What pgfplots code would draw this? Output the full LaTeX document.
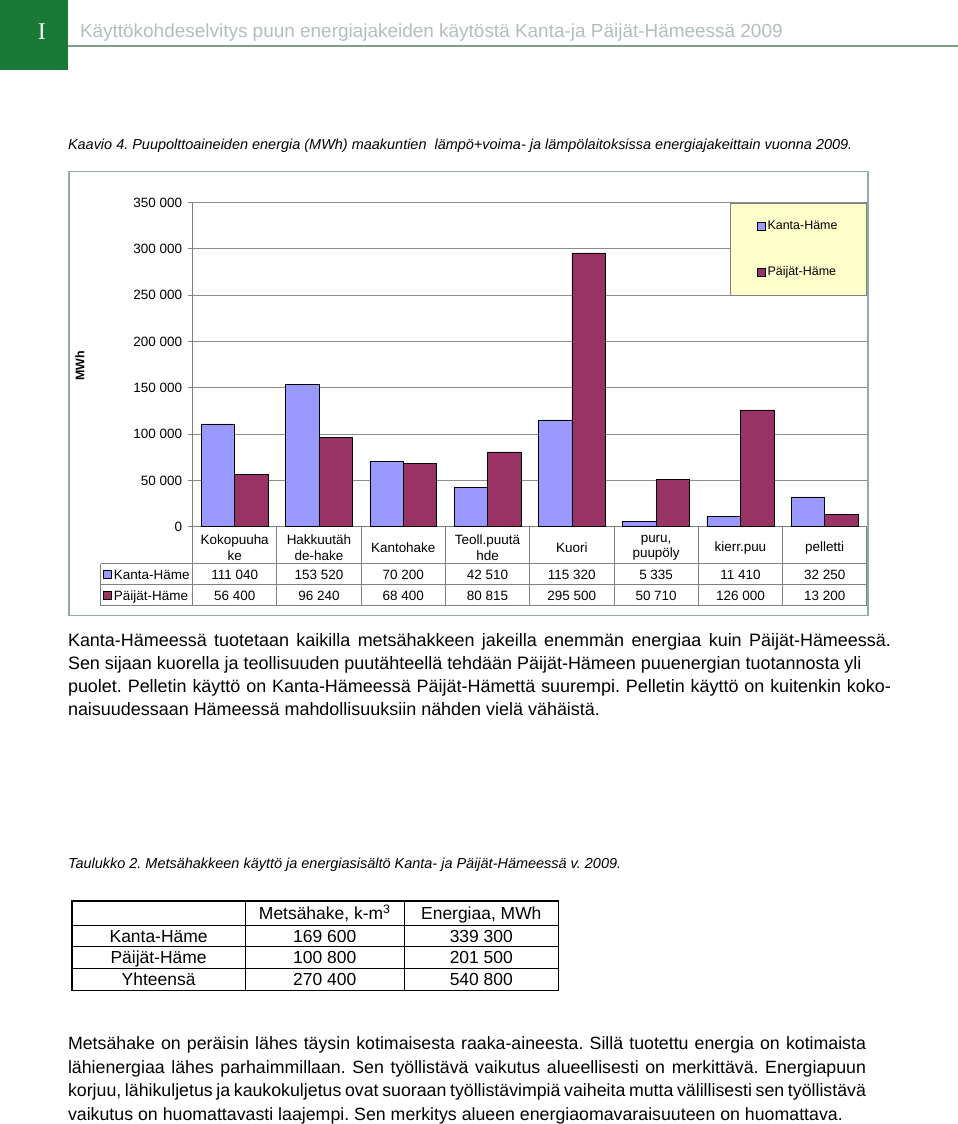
\documentclass[border=0pt]{standalone}
\usepackage{pgfplots}
\pgfplotsset{compat=1.18}
\usepackage{fontspec}
\setmainfont{Liberation Sans}
\newfontfamily\seriffont{Liberation Serif}
\definecolor{hdrgreen}{HTML}{197A38}
\definecolor{hdrtext}{HTML}{B4BEB8}
\definecolor{hdrline}{HTML}{7F9F8A}
\definecolor{frame}{HTML}{8FAF9C}
\definecolor{kanta}{HTML}{9999FF}
\definecolor{paijat}{HTML}{993366}
\definecolor{legfill}{HTML}{FFFFCC}
\newcommand{\fs}[1]{\fontsize{#1}{#1}\selectfont}
\newcommand{\jl}[2]{\makebox[#1][s]{#2}}
\frenchspacing
\begin{document}
\frenchspacing
\begin{tikzpicture}
\begin{scope}[x=1pt,y=-1pt]
\path[use as bounding box] (0,0) rectangle (960,1124);
% header
\fill[hdrgreen] (0,0) rectangle (68,70);
\node[white,font=\seriffont\fs{24}] at (42,32) {I};
\draw[hdrline,line width=1.5pt] (68,46) -- (960,46);
\node[anchor=base west,text=hdrtext,font=\fs{19},inner sep=0pt] at (80,38) {Käyttökohdeselvitys puun energiajakeiden käytöstä Kanta-ja Päijät-Hämeessä 2009};
% caption
\node[anchor=base west,font=\itshape\fs{14.5},inner sep=0pt] at (68,150) {Kaavio 4. Puupolttoaineiden energia (MWh) maakuntien\ \ lämpö+voima- ja lämpölaitoksissa energiajakeittain vuonna 2009.};
% chart frame
\draw[frame,line width=1.5pt] (69,172) rectangle (870,617);
\node[rotate=90,font=\bfseries\fs{12.5}] at (80,367) {MWh};
\end{scope}

\begin{axis}[
  at={(193pt,-528pt)}, anchor=south west,
  scale only axis, width=676pt, height=325pt,
  ymin=0, ymax=350000, xmin=-0.5, xmax=7.5,
  ybar=0pt, bar width=33.5pt,
  axis x line*=bottom, axis y line*=left,
  axis line style={-, draw=gray, line width=0.8pt},
  ytick={0,50000,...,350000},
  ymajorgrids, grid style={draw=gray!90, line width=0.7pt},
  tick align=outside, major tick length=5pt,
  ytick style={draw=gray, line width=0.8pt},
  xtick={0,...,7}, xtick style={draw=none},
  xticklabels={{Kokopuuha\\ke},{Hakkuutäh\\de-hake},{Kantohake},{Teoll.puutä\\hde},{Kuori},{puru,\\puupöly},{kierr.puu},{pelletti}},
  x tick label style={align=center, anchor=center, font=\fontsize{13.5}{15.5}\selectfont, yshift=-16pt},
  y tick label style={font=\fs{13.5}, xshift=-2pt},
  /pgf/number format/fixed,
  /pgf/number format/precision=0,
  /pgf/number format/assume math mode=true,
  /pgf/number format/1000 sep={\ },
  scaled y ticks=false,
  clip=false,
  legend cell align=left,
  legend style={at={(1,1)}, anchor=north east, xshift=0pt, fill=legfill, draw=gray, line width=0.8pt,
    font=\fs{12.5}, inner xsep=27pt, inner ysep=16pt, row sep=32pt},
]
\addplot[fill=kanta, draw=black, line width=0.6pt,
  legend image code/.code={\draw[fill=kanta,draw=black,line width=0.5pt] (0pt,-4pt) rectangle (8pt,4pt);}]
  coordinates {(0,111040) (1,153520) (2,70200) (3,42510) (4,115320) (5,5335) (6,11410) (7,32250)};
\addplot[fill=paijat, draw=black, line width=0.6pt,
  legend image code/.code={\draw[fill=paijat,draw=black,line width=0.5pt] (0pt,-4pt) rectangle (8pt,4pt);}]
  coordinates {(0,56400) (1,96240) (2,68400) (3,80815) (4,295500) (5,50710) (6,126000) (7,13200)};
\legend{Kanta-Häme,Päijät-Häme}
\end{axis}

\begin{scope}[x=1pt,y=-1pt]
% data table
\foreach \k in {0,...,8} {\draw[gray,line width=0.8pt] ({193+84.5*\k},528) -- ({193+84.5*\k},607);}
\foreach \yy in {565,586,607} {\draw[gray,line width=0.8pt] (101,\yy) -- (869,\yy);}
\draw[gray,line width=0.8pt] (101,565) -- (101,607);
\draw[fill=kanta,draw=black,line width=0.5pt] (104,571.5) rectangle (112,579.5);
\draw[fill=paijat,draw=black,line width=0.5pt] (104,592.5) rectangle (112,600.5);
\node[anchor=base west,font=\fs{13.5},inner sep=0pt] at (114,580.5) {Kanta-Häme};
\node[anchor=base west,font=\fs{13.5},inner sep=0pt] at (114,601.5) {Päijät-Häme};
\foreach \v [count=\i from 0] in {111 040,153 520,70 200,42 510,115 320,5 335,11 410,32 250}
  {\node[anchor=base,font=\fs{13.5},inner sep=0pt] at ({235.25+84.5*\i},580.5) {\v};}
\foreach \v [count=\i from 0] in {56 400,96 240,68 400,80 815,295 500,50 710,126 000,13 200}
  {\node[anchor=base,font=\fs{13.5},inner sep=0pt] at ({235.25+84.5*\i},601.5) {\v};}
% paragraph 1
\begin{scope}[every node/.style={anchor=base west,font=\fs{18},inner sep=0pt}]
\node at (68,648) {\jl{825pt}{Kanta-Hämeessä tuotetaan kaikilla metsähakkeen jakeilla enemmän energiaa kuin Päijät-Hämeessä.}};
\node at (68,671.2) {Sen sijaan kuorella ja teollisuuden puutähteellä tehdään Päijät-Hämeen puuenergian tuotannosta yli};
\node at (68,694.4) {\jl{825pt}{puolet. Pelletin käyttö on Kanta-Hämeessä Päijät-Hämettä suurempi. Pelletin käyttö on kuitenkin koko-}};
\node at (68,717.6) {naisuudessaan Hämeessä mahdollisuuksiin nähden vielä vähäistä.};
\end{scope}
% table caption
\node[anchor=base west,font=\itshape\fs{14.5},inner sep=0pt] at (68,871) {Taulukko 2. Metsähakkeen käyttö ja energiasisältö Kanta- ja Päijät-Hämeessä v. 2009.};
% table 2
\draw[line width=1.5pt] (72,903) rectangle (560,993);
\foreach \yy in {928,949,971} {\draw[line width=1pt] (72,\yy) -- (560,\yy);}
\foreach \xx in {246,405} {\draw[line width=1pt] (\xx,903) -- (\xx,993);}
\node[anchor=base,font=\fs{17.5},inner sep=0pt] at (325.5,922) {Metsähake, k-m\textsuperscript{3}};
\node[anchor=base,font=\fs{17.5},inner sep=0pt] at (482.5,922) {Energiaa, MWh};
\foreach \a/\b/\c [count=\i from 0] in {Kanta-Häme/169 600/339 300,Päijät-Häme/100 800/201 500,Yhteensä/270 400/540 800}{
  \node[anchor=base,font=\fs{17.5},inner sep=0pt] at (159,{944.5+21.7*\i}) {\a};
  \node[anchor=base,font=\fs{17.5},inner sep=0pt] at (325.5,{944.5+21.7*\i}) {\b};
  \node[anchor=base,font=\fs{17.5},inner sep=0pt] at (482.5,{944.5+21.7*\i}) {\c};
}
% paragraph 2
\begin{scope}[every node/.style={anchor=base west,font=\fs{17.8},inner sep=0pt}]
\node at (68,1052) {\jl{800pt}{Metsähake on peräisin lähes täysin kotimaisesta raaka-aineesta. Sillä tuotettu energia on kotimaista}};
\node at (68,1075.7) {\jl{800pt}{lähienergiaa lähes parhaimmillaan. Sen työllistävä vaikutus alueellisesti on merkittävä. Energiapuun}};
\node at (68,1099.4) {\jl{800pt}{korjuu, lähikuljetus ja kaukokuljetus ovat suoraan työllistävimpiä vaiheita mutta välillisesti sen työllistävä}};
\node at (68,1123.1) {vaikutus on huomattavasti laajempi. Sen merkitys alueen energiaomavaraisuuteen on huomattava.};
\end{scope}
\end{scope}
\end{tikzpicture}
\end{document}
